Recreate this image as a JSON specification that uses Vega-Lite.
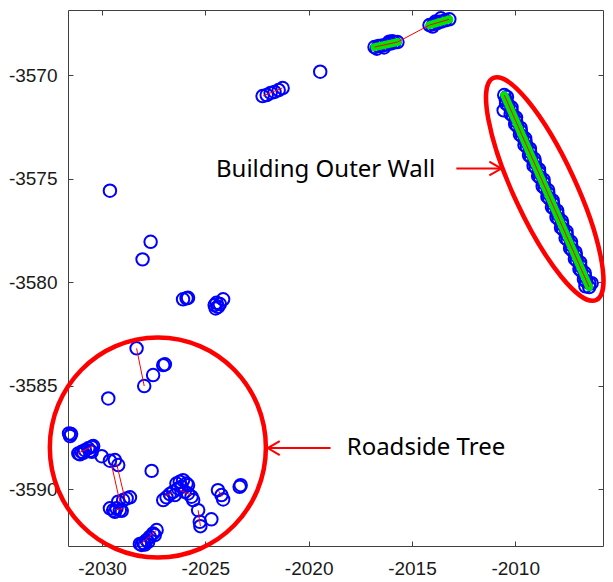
{
  "$schema": "https://vega.github.io/schema/vega-lite/v6.json",
  "width": 535,
  "height": 536,
  "autosize": "none",
  "padding": {"left": 68, "top": 10, "right": 10, "bottom": 36},
  "background": "white",
  "config": {
    "view": {"stroke": null},
    "axis": {"grid": false, "tickSize": -5, "tickColor": "#404040", "domainColor": "#404040", "domainWidth": 1, "tickWidth": 1, "labelFont": "Liberation Sans", "labelFontSize": 19, "labelColor": "#1a1a1a"}
  },
  "datasets": {
    "pts": [
      {"x": -2022.23, "y": -3571.01}, {"x": -2022.03, "y": -3570.96}, {"x": -2021.84, "y": -3570.86}, {"x": -2021.65, "y": -3570.81}, {"x": -2021.45, "y": -3570.72}, {"x": -2021.26, "y": -3570.62},
      {"x": -2019.44, "y": -3569.83},
      {"x": -2016.81, "y": -3568.64}, {"x": -2016.62, "y": -3568.59}, {"x": -2016.43, "y": -3568.57}, {"x": -2016.23, "y": -3568.52}, {"x": -2016.04, "y": -3568.47}, {"x": -2015.85, "y": -3568.42}, {"x": -2015.70, "y": -3568.40}, {"x": -2016.70, "y": -3568.72}, {"x": -2016.10, "y": -3568.38}, {"x": -2016.35, "y": -3568.66}, {"x": -2015.95, "y": -3568.36},
      {"x": -2014.15, "y": -3567.58}, {"x": -2013.96, "y": -3567.53}, {"x": -2013.77, "y": -3567.48}, {"x": -2013.58, "y": -3567.41}, {"x": -2013.38, "y": -3567.35}, {"x": -2013.19, "y": -3567.30}, {"x": -2013.60, "y": -3567.25}, {"x": -2014.00, "y": -3567.65}, {"x": -2013.85, "y": -3567.40},
      {"x": -2010.53, "y": -3570.96}, {"x": -2010.45, "y": -3571.21}, {"x": -2010.33, "y": -3571.46}, {"x": -2010.56, "y": -3571.70}, {"x": -2010.18, "y": -3571.71}, {"x": -2010.11, "y": -3571.96}, {"x": -2009.96, "y": -3572.21}, {"x": -2009.90, "y": -3572.46}, {"x": -2009.73, "y": -3572.71}, {"x": -2009.66, "y": -3572.96}, {"x": -2009.50, "y": -3573.21}, {"x": -2009.44, "y": -3573.46}, {"x": -2009.28, "y": -3573.71}, {"x": -2009.23, "y": -3573.96}, {"x": -2009.06, "y": -3574.21}, {"x": -2009.01, "y": -3574.46}, {"x": -2008.84, "y": -3574.71}, {"x": -2008.79, "y": -3574.96}, {"x": -2008.62, "y": -3575.21}, {"x": -2008.57, "y": -3575.46}, {"x": -2008.40, "y": -3575.71}, {"x": -2008.35, "y": -3575.96}, {"x": -2008.17, "y": -3576.21}, {"x": -2008.12, "y": -3576.46}, {"x": -2007.95, "y": -3576.71}, {"x": -2007.90, "y": -3576.96}, {"x": -2007.73, "y": -3577.21}, {"x": -2007.68, "y": -3577.46}, {"x": -2007.51, "y": -3577.71}, {"x": -2007.46, "y": -3577.96}, {"x": -2007.29, "y": -3578.21}, {"x": -2007.24, "y": -3578.46}, {"x": -2007.07, "y": -3578.71}, {"x": -2007.02, "y": -3578.96}, {"x": -2006.85, "y": -3579.21}, {"x": -2006.80, "y": -3579.46}, {"x": -2006.62, "y": -3579.71}, {"x": -2006.57, "y": -3579.96}, {"x": -2006.42, "y": -3580.24}, {"x": -2006.60, "y": -3580.20}, {"x": -2006.30, "y": -3580.05},
      {"x": -2010.40, "y": -3571.05}, {"x": -2010.44, "y": -3571.37}, {"x": -2010.18, "y": -3571.55}, {"x": -2010.22, "y": -3571.87}, {"x": -2009.96, "y": -3572.05}, {"x": -2010.00, "y": -3572.37}, {"x": -2009.74, "y": -3572.55}, {"x": -2009.77, "y": -3572.87}, {"x": -2009.52, "y": -3573.05}, {"x": -2009.55, "y": -3573.37}, {"x": -2009.29, "y": -3573.55}, {"x": -2009.33, "y": -3573.87}, {"x": -2009.07, "y": -3574.05}, {"x": -2009.11, "y": -3574.37}, {"x": -2008.85, "y": -3574.55}, {"x": -2008.89, "y": -3574.87}, {"x": -2008.63, "y": -3575.05}, {"x": -2008.67, "y": -3575.37}, {"x": -2008.41, "y": -3575.55}, {"x": -2008.44, "y": -3575.87}, {"x": -2008.19, "y": -3576.05}, {"x": -2008.22, "y": -3576.37}, {"x": -2007.97, "y": -3576.55}, {"x": -2008.00, "y": -3576.87}, {"x": -2007.74, "y": -3577.05}, {"x": -2007.78, "y": -3577.37}, {"x": -2007.52, "y": -3577.55}, {"x": -2007.56, "y": -3577.87}, {"x": -2007.30, "y": -3578.05}, {"x": -2007.34, "y": -3578.37}, {"x": -2007.08, "y": -3578.55}, {"x": -2007.11, "y": -3578.87}, {"x": -2006.86, "y": -3579.05}, {"x": -2006.89, "y": -3579.37}, {"x": -2006.64, "y": -3579.55}, {"x": -2006.67, "y": -3579.87}, {"x": -2006.41, "y": -3580.05},
      {"x": -2029.62, "y": -3575.58},
      {"x": -2027.65, "y": -3578.05}, {"x": -2028.04, "y": -3578.90},
      {"x": -2026.08, "y": -3580.83}, {"x": -2025.91, "y": -3580.78}, {"x": -2025.84, "y": -3580.76},
      {"x": -2024.55, "y": -3581.11}, {"x": -2024.46, "y": -3581.00}, {"x": -2024.39, "y": -3581.19}, {"x": -2024.14, "y": -3580.83}, {"x": -2024.50, "y": -3581.27}, {"x": -2024.30, "y": -3581.06},
      {"x": -2028.33, "y": -3583.20}, {"x": -2027.96, "y": -3585.02}, {"x": -2027.53, "y": -3584.49}, {"x": -2027.04, "y": -3584.01}, {"x": -2026.96, "y": -3583.97},
      {"x": -2029.70, "y": -3585.62},
      {"x": -2031.60, "y": -3587.31}, {"x": -2031.55, "y": -3587.44}, {"x": -2031.50, "y": -3587.34},
      {"x": -2031.15, "y": -3588.28}, {"x": -2030.99, "y": -3588.20}, {"x": -2030.83, "y": -3588.12}, {"x": -2030.67, "y": -3588.03}, {"x": -2030.50, "y": -3587.96}, {"x": -2030.43, "y": -3587.92}, {"x": -2031.07, "y": -3588.32}, {"x": -2030.91, "y": -3588.25}, {"x": -2030.59, "y": -3588.15}, {"x": -2030.50, "y": -3588.20},
      {"x": -2030.02, "y": -3588.41}, {"x": -2029.62, "y": -3588.63}, {"x": -2029.38, "y": -3588.60}, {"x": -2029.22, "y": -3588.84},
      {"x": -2029.62, "y": -3590.93}, {"x": -2029.46, "y": -3591.02}, {"x": -2029.30, "y": -3590.93}, {"x": -2029.14, "y": -3591.02}, {"x": -2029.22, "y": -3590.61}, {"x": -2028.98, "y": -3590.53}, {"x": -2028.81, "y": -3590.45}, {"x": -2028.65, "y": -3590.40}, {"x": -2029.38, "y": -3591.10}, {"x": -2029.05, "y": -3591.05},
      {"x": -2027.60, "y": -3589.12},
      {"x": -2027.04, "y": -3590.53}, {"x": -2026.88, "y": -3590.40}, {"x": -2026.72, "y": -3590.24}, {"x": -2026.56, "y": -3590.13}, {"x": -2026.48, "y": -3590.29}, {"x": -2026.32, "y": -3589.97}, {"x": -2026.24, "y": -3589.65}, {"x": -2026.08, "y": -3589.57}, {"x": -2025.91, "y": -3589.73}, {"x": -2026.15, "y": -3589.89}, {"x": -2026.00, "y": -3590.13}, {"x": -2025.84, "y": -3590.21}, {"x": -2025.67, "y": -3590.37}, {"x": -2025.59, "y": -3590.53}, {"x": -2026.40, "y": -3589.73}, {"x": -2025.84, "y": -3589.81},
      {"x": -2025.35, "y": -3591.02}, {"x": -2025.27, "y": -3591.58}, {"x": -2025.24, "y": -3591.79},
      {"x": -2024.71, "y": -3591.46},
      {"x": -2024.39, "y": -3590.05}, {"x": -2024.22, "y": -3590.29}, {"x": -2024.14, "y": -3590.50},
      {"x": -2023.34, "y": -3589.89}, {"x": -2023.29, "y": -3589.81},
      {"x": -2028.17, "y": -3592.65}, {"x": -2028.01, "y": -3592.60}, {"x": -2027.85, "y": -3592.47}, {"x": -2027.69, "y": -3592.31}, {"x": -2027.53, "y": -3592.14}, {"x": -2027.36, "y": -3591.98}, {"x": -2028.09, "y": -3592.70}, {"x": -2027.77, "y": -3592.55}, {"x": -2027.45, "y": -3592.22}, {"x": -2027.93, "y": -3592.68}
    ],
    "green": [
      {"x": -2010.53, "y": -3570.96, "x2": -2006.42, "y2": -3580.24},
      {"x": -2016.81, "y": -3568.64, "x2": -2015.70, "y2": -3568.40},
      {"x": -2014.15, "y": -3567.58, "x2": -2013.19, "y2": -3567.30}
    ],
    "red": [
      {"x": -2022.20, "y": -3571.00, "x2": -2021.28, "y2": -3570.62},
      {"x": -2010.53, "y": -3570.96, "x2": -2006.42, "y2": -3580.24},
      {"x": -2016.81, "y": -3568.64, "x2": -2015.70, "y2": -3568.40},
      {"x": -2015.70, "y": -3568.40, "x2": -2014.15, "y2": -3567.58},
      {"x": -2014.15, "y": -3567.58, "x2": -2013.19, "y2": -3567.30},
      {"x": -2028.33, "y": -3583.20, "x2": -2027.96, "y2": -3585.02},
      {"x": -2031.16, "y": -3588.26, "x2": -2030.43, "y2": -3587.92},
      {"x": -2029.54, "y": -3588.84, "x2": -2029.14, "y2": -3590.61},
      {"x": -2029.30, "y": -3588.76, "x2": -2028.90, "y2": -3590.45},
      {"x": -2026.96, "y": -3590.34, "x2": -2026.64, "y2": -3590.18},
      {"x": -2026.24, "y": -3590.05, "x2": -2025.67, "y2": -3590.29},
      {"x": -2025.35, "y": -3591.02, "x2": -2025.24, "y2": -3591.79},
      {"x": -2028.12, "y": -3592.65, "x2": -2027.36, "y2": -3591.98},
      {"x": -2029.35, "y": -3591.00, "x2": -2029.00, "y2": -3590.95},
      {"x": -2024.35, "y": -3590.10, "x2": -2024.20, "y2": -3590.35}
    ],
    "labels": [
      {"x": -2019.18, "y": -3574.58, "text": "Building Outer Wall"},
      {"x": -2014.32, "y": -3588.02, "text": "Roadside Tree"}
    ],
    "arrows": [
      {"x": -2012.85, "x2": -2010.67, "y": -3574.51},
      {"x": -2021.98, "x2": -2018.94, "y": -3588.02}
    ],
    "headR": [{"x": -2010.67, "y": -3574.51}],
    "headL": [{"x": -2021.98, "y": -3588.02}],
    "wallRing": [{"x": -2008.57, "y": -3575.50}],
    "treeRing": [{"x": -2027.30, "y": -3587.99}]
  },
  "layer": [
    {
      "data": {"name": "pts"},
      "mark": {"type": "point", "shape": "circle", "filled": false, "size": 156, "stroke": "#0000ff", "strokeWidth": 2, "opacity": 1, "clip": false},
      "encoding": {
        "x": {"field": "x", "type": "quantitative", "scale": {"domain": [-2031.65, -2005.75], "nice": false, "zero": false},
              "axis": {"orient": "bottom", "title": null, "values": [-2030, -2025, -2020, -2015, -2010], "labelExpr": "toString(datum.value)", "labelPadding": 18}},
        "y": {"field": "y", "type": "quantitative", "scale": {"domain": [-3592.75, -3566.85], "nice": false, "zero": false},
              "axis": {"orient": "left", "title": null, "values": [-3590, -3585, -3580, -3575, -3570], "labelExpr": "toString(datum.value)", "labelPadding": 16}}
      }
    },
    {
      "data": {"name": "green"},
      "mark": {"type": "rule", "stroke": "#00e600", "strokeWidth": 8, "strokeCap": "round"},
      "encoding": {
        "x": {"field": "x", "type": "quantitative", "axis": null},
        "y": {"field": "y", "type": "quantitative", "axis": null},
        "x2": {"field": "x2"},
        "y2": {"field": "y2"}
      }
    },
    {
      "data": {"name": "red"},
      "mark": {"type": "rule", "stroke": "#ff0000", "strokeWidth": 1, "clip": false},
      "encoding": {
        "x": {"field": "x", "type": "quantitative",
              "axis": {"orient": "top", "title": null, "labels": false, "values": [-2030, -2025, -2020, -2015, -2010]}},
        "y": {"field": "y", "type": "quantitative",
              "axis": {"orient": "right", "title": null, "labels": false, "values": [-3590, -3585, -3580, -3575, -3570]}},
        "x2": {"field": "x2"},
        "y2": {"field": "y2"}
      }
    },
    {
      "data": {"name": "arrows"},
      "mark": {"type": "rule", "stroke": "#ff0000", "strokeWidth": 2, "clip": false},
      "encoding": {
        "x": {"field": "x", "type": "quantitative", "axis": null},
        "x2": {"field": "x2"},
        "y": {"field": "y", "type": "quantitative", "axis": null}
      }
    },
    {
      "data": {"name": "headR"},
      "mark": {"type": "point", "shape": "M -1 -0.58 L 0 0 L -1 0.58", "filled": false, "size": 576, "stroke": "#ff0000", "strokeWidth": 2, "opacity": 1, "clip": false},
      "encoding": {
        "x": {"field": "x", "type": "quantitative", "axis": null},
        "y": {"field": "y", "type": "quantitative", "axis": null}
      }
    },
    {
      "data": {"name": "headL"},
      "mark": {"type": "point", "shape": "M 1 -0.58 L 0 0 L 1 0.58", "filled": false, "size": 576, "stroke": "#ff0000", "strokeWidth": 2, "opacity": 1, "clip": false},
      "encoding": {
        "x": {"field": "x", "type": "quantitative", "axis": null},
        "y": {"field": "y", "type": "quantitative", "axis": null}
      }
    },
    {
      "data": {"name": "wallRing"},
      "mark": {"type": "point", "shape": "M 0 -1 A 0.253 1 0 0 1 0 1 A 0.253 1 0 0 1 0 -1 Z", "angle": 335.1, "filled": false, "size": 59926, "stroke": "#ff0000", "strokeWidth": 4.5, "opacity": 1, "clip": false},
      "encoding": {
        "x": {"field": "x", "type": "quantitative", "axis": null},
        "y": {"field": "y", "type": "quantitative", "axis": null}
      }
    },
    {
      "data": {"name": "treeRing"},
      "mark": {"type": "point", "shape": "M 0 -1 A 0.982 1 0 0 1 0 1 A 0.982 1 0 0 1 0 -1 Z", "filled": false, "size": 48400, "stroke": "#ff0000", "strokeWidth": 4.5, "opacity": 1, "clip": false},
      "encoding": {
        "x": {"field": "x", "type": "quantitative", "axis": null},
        "y": {"field": "y", "type": "quantitative", "axis": null}
      }
    },
    {
      "data": {"name": "labels"},
      "mark": {"type": "text", "font": "Noto Sans", "fontSize": 24, "color": "#000000", "align": "center", "baseline": "middle"},
      "encoding": {
        "x": {"field": "x", "type": "quantitative", "axis": null},
        "y": {"field": "y", "type": "quantitative", "axis": null},
        "text": {"field": "text"}
      }
    }
  ],
  "resolve": {"axis": {"x": "independent", "y": "independent"}}
}
